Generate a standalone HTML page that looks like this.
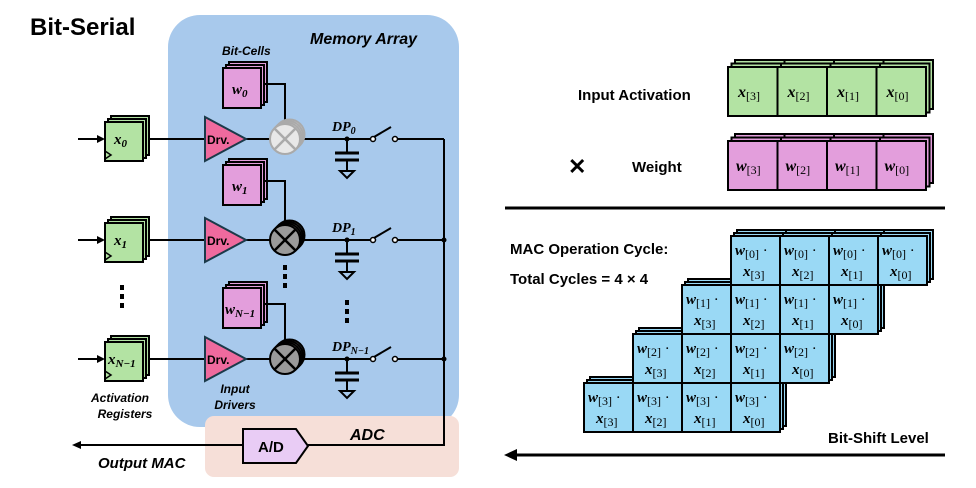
<!DOCTYPE html>
<html><head><meta charset="utf-8"><style>
html,body{margin:0;padding:0;background:#fff;width:976px;height:488px;overflow:hidden}
svg{display:block}
text{font-family:"Liberation Sans",sans-serif}
.m{font-family:"Liberation Serif",serif;font-style:italic;font-weight:bold}
.s{font-family:"Liberation Serif",serif;font-weight:normal;font-style:normal}
</style></head><body>
<svg id="g" width="976" height="488" viewBox="0 0 976 488" xmlns="http://www.w3.org/2000/svg">
<text x="30" y="35" font-size="24" font-weight="bold">Bit-Serial</text>
<rect x="168" y="15" width="291" height="412" rx="32" fill="#a8c9ec"/>
<rect x="205" y="416" width="254" height="61" rx="9" fill="#f6dfd8"/>
<text x="310" y="44" font-size="16" font-weight="bold" font-style="italic">Memory Array</text>
<text x="222" y="55" font-size="12" font-weight="bold" font-style="italic">Bit-Cells</text>
<text x="350" y="440" font-size="16" font-weight="bold" font-style="italic">ADC</text>
<text x="98" y="468" font-size="15" font-weight="bold" font-style="italic">Output MAC</text>
<text x="120" y="402" font-size="12" font-weight="bold" font-style="italic" text-anchor="middle">Activation</text>
<text x="125" y="418" font-size="12" font-weight="bold" font-style="italic" text-anchor="middle">Registers</text>
<text x="235" y="393" font-size="12" font-weight="bold" font-style="italic" text-anchor="middle">Input</text>
<text x="235" y="409" font-size="12" font-weight="bold" font-style="italic" text-anchor="middle">Drivers</text>
</svg>
<script>
var g=document.getElementById('g'),h='';
function stack(x,y,w,hh,fill,n,off){var s='';for(var i=n-1;i>=0;i--){s+='<rect x="'+(x+i*off)+'" y="'+(y-i*off)+'" width="'+w+'" height="'+hh+'" fill="'+fill+'" stroke="#000" stroke-width="2"/>';}return s;}
var rows=[[139,'x','0',68,'w','0',false],[240,'x','1',165,'w','1',true],[359,'x','N−1',288,'w','N−1',true]];
rows.forEach(function(r,i){
 var y=r[0];
 h+='<line x1="78" y1="'+y+'" x2="103" y2="'+y+'" stroke="#000" stroke-width="2"/><polygon points="105,'+y+' 97,'+(y-4)+' 97,'+(y+4)+'" fill="#000"/>';
 h+=stack(105,y-17,38,39,'#b3e3a3',3,3);
 h+='<polyline points="105,'+(y+12)+' 111,'+(y+16)+' 105,'+(y+20)+'" fill="none" stroke="#000" stroke-width="1.5"/>';
 h+='<text x="'+(i==2?108:114)+'" y="'+(y+5)+'" font-size="15" class="m">x<tspan font-size="11" dy="3">'+r[2]+'</tspan></text>';
 h+='<line x1="148" y1="'+y+'" x2="285" y2="'+y+'" stroke="#000" stroke-width="2"/>';
 h+='<polygon points="205,'+(y-22)+' 246,'+y+' 205,'+(y+22)+'" fill="#ef6a9e" stroke="#1b3a4a" stroke-width="2"/>';
 h+='<text x="207" y="'+(y+5)+'" font-size="12" font-weight="bold">Drv.</text>';
 var wy=r[3];
 h+=stack(223,wy,38,40,'#e39edc',3,3);
 h+='<polyline points="264,'+(wy+16)+' 285,'+(wy+16)+' 285,'+(y-14)+'" fill="none" stroke="#000" stroke-width="2"/>';
 h+='<text x="'+(i==2?225:232)+'" y="'+(wy+26)+'" font-size="15" class="m">w<tspan font-size="11" dy="3">'+r[5]+'</tspan></text>';
 h+='<line x1="285" y1="'+y+'" x2="370" y2="'+y+'" stroke="#000" stroke-width="2"/>';
 var c=i==0?'#aaa':'#000', f=i==0?'#e8e8e8':'#9a9a9a';
 for(var k=3;k>=0;k--)h+='<circle cx="'+(285+k*1.5)+'" cy="'+(y-k*1.5)+'" r="15" fill="'+f+'" stroke="'+c+'" stroke-width="2"/>';
 h+='<line x1="274" y1="'+(y-11)+'" x2="296" y2="'+(y+11)+'" stroke="'+c+'" stroke-width="2.5"/><line x1="296" y1="'+(y-11)+'" x2="274" y2="'+(y+11)+'" stroke="'+c+'" stroke-width="2.5"/>';
 h+='<circle cx="347" cy="'+y+'" r="2.5"/><line x1="347" y1="'+y+'" x2="347" y2="'+(y+14)+'" stroke="#000" stroke-width="2"/>';
 h+='<line x1="335" y1="'+(y+14)+'" x2="359" y2="'+(y+14)+'" stroke="#000" stroke-width="3"/><line x1="335" y1="'+(y+21)+'" x2="359" y2="'+(y+21)+'" stroke="#000" stroke-width="3"/>';
 h+='<line x1="347" y1="'+(y+21)+'" x2="347" y2="'+(y+32)+'" stroke="#000" stroke-width="2"/><polygon points="340,'+(y+32)+' 354,'+(y+32)+' 347,'+(y+39)+'" fill="none" stroke="#000" stroke-width="2"/>';
 h+='<text x="332" y="'+(y-8)+'" font-size="14" class="m">DP<tspan font-size="10" dy="3">'+r[2].replace('x','')+'</tspan></text>';
 h+='<circle cx="373" cy="'+y+'" r="2.5" fill="#fff" stroke="#000" stroke-width="1.5"/><line x1="374" y1="'+(y-2)+'" x2="391" y2="'+(y-12)+'" stroke="#000" stroke-width="2"/>';
 h+='<circle cx="395" cy="'+y+'" r="2.5" fill="#fff" stroke="#000" stroke-width="1.5"/><line x1="398" y1="'+y+'" x2="444" y2="'+y+'" stroke="#000" stroke-width="2"/>';
 if(i>0)h+='<circle cx="444" cy="'+y+'" r="2.5"/>';
});
h+='<polyline points="444,139 444,445 308,445" fill="none" stroke="#000" stroke-width="2"/>';
h+='<polygon points="243,429 296,429 308,446 296,463 243,463" fill="#e9ccf5" stroke="#000" stroke-width="2"/><text x="258" y="452" font-size="15" font-weight="bold">A/D</text>';
h+='<line x1="80" y1="445" x2="243" y2="445" stroke="#000" stroke-width="2"/><polygon points="72,445 81,441 81,449" fill="#000"/>';
[[122,285],[285,265],[347,300]].forEach(function(d){for(var k=0;k<3;k++)h+='<rect x="'+(d[0]-2)+'" y="'+(d[1]+k*9)+'" width="4" height="5" fill="#000"/>';});
// right side
h+='<text x="578" y="100" font-size="15" font-weight="bold">Input Activation</text>';
h+='<text x="632" y="172" font-size="15" font-weight="bold">Weight</text>';
h+='<text x="568" y="174" font-size="22" font-weight="bold">✕</text>';
var idx=['3','2','1','0'];
for(var k=2;k>0;k--)for(var j=0;j<4;j++){h+='<rect x="'+(728+j*49.5+k*3.5)+'" y="'+(67-k*3.5)+'" width="49.5" height="49" fill="#b3e3a3" stroke="#000" stroke-width="2"/>';h+='<rect x="'+(728+j*49.5+k*3.5)+'" y="'+(141-k*3.5)+'" width="49.5" height="49" fill="#e39edc" stroke="#000" stroke-width="2"/>';}
for(var j=0;j<4;j++){var x=728+j*49.5;h+='<rect x="'+x+'" y="67" width="49.5" height="49" fill="#b3e3a3" stroke="#000" stroke-width="2"/><text x="'+(x+10)+'" y="97" font-size="16" class="m">x<tspan class="s" font-size="12" dy="3">['+idx[j]+']</tspan></text>';
 h+='<rect x="'+x+'" y="141" width="49.5" height="49" fill="#e39edc" stroke="#000" stroke-width="2"/><text x="'+(x+8)+'" y="171" font-size="16" class="m">w<tspan class="s" font-size="12" dy="3">['+idx[j]+']</tspan></text>';}
h+='<line x1="505" y1="208" x2="945" y2="208" stroke="#000" stroke-width="3"/>';
h+='<text x="510" y="254" font-size="15" font-weight="bold">MAC Operation Cycle:</text>';
h+='<text x="510" y="284" font-size="15" font-weight="bold">Total Cycles = 4 × 4</text>';
var cw=49;
for(var r=0;r<4;r++){var x0=731-r*cw,y0=236+r*cw;
 for(var k=2;k>0;k--)for(var j=0;j<4;j++)h+='<rect x="'+(x0+j*cw+k*3)+'" y="'+(y0-k*3)+'" width="'+cw+'" height="'+cw+'" fill="#9ad9f5" stroke="#000" stroke-width="2"/>';}
for(var r=0;r<4;r++){var x0=731-r*cw,y0=236+r*cw;
 for(var j=0;j<4;j++){var x=x0+j*cw;h+='<rect x="'+x+'" y="'+y0+'" width="'+cw+'" height="'+cw+'" fill="#9ad9f5" stroke="#000" stroke-width="2"/>';
 h+='<text x="'+(x+4)+'" y="'+(y0+19)+'" font-size="15" class="m">w<tspan class="s" font-size="12" dy="3">['+r+']</tspan><tspan class="s" font-weight="bold" dy="-3"> ·</tspan></text>';
 h+='<text x="'+(x+12)+'" y="'+(y0+40)+'" font-size="15" class="m">x<tspan class="s" font-size="12" dy="3">['+idx[j]+']</tspan></text>';}}
h+='<text x="828" y="443" font-size="15" font-weight="bold">Bit-Shift Level</text>';
h+='<line x1="515" y1="455" x2="945" y2="455" stroke="#000" stroke-width="3"/><polygon points="504,455 517,449 517,461" fill="#000"/>';
g.insertAdjacentHTML('beforeend',h);
</script>
</body></html>
